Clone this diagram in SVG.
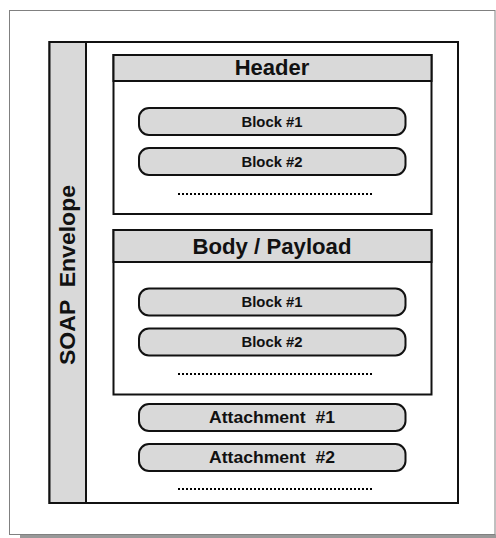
<svg xmlns="http://www.w3.org/2000/svg" width="496" height="538" viewBox="0 0 496 538">
  <style>
    .frame { fill: #ffffff; stroke: #808080; stroke-width: 1; }
    .shadow { fill: #999999; }
    .box { fill: #ffffff; stroke: #111111; stroke-width: 2; }
    .bar { fill: #d9d9d9; stroke: #111111; stroke-width: 2; }
    .pill { fill: #d9d9d9; stroke: #111111; stroke-width: 2; }
    .dots { stroke: #000000; stroke-width: 2; stroke-dasharray: 2 2; fill: none; }
    text { font-family: "Liberation Sans", Arial, sans-serif; font-weight: bold; fill: #111111; text-anchor: middle; }
    .title { font-size: 22px; }
    .block { font-size: 15px; }
    .attach { font-size: 17px; }
  </style>

  <!-- page frame with drop shadow -->
  <rect class="shadow" x="20" y="534.5" width="476" height="4"/>
  <rect class="frame" x="9.5" y="10.5" width="485.5" height="524"/>

  <!-- envelope with vertical side bar -->
  <g id="envelope">
    <rect class="box" x="49.5" y="42" width="408.5" height="461"/>
    <rect class="bar" x="49.5" y="42" width="36.5" height="461"/>
    <text class="title" transform="translate(75,275) rotate(-90)" textLength="180" lengthAdjust="spacingAndGlyphs" xml:space="preserve">SOAP  Envelope</text>
  </g>

  <!-- header section -->
  <g id="header">
    <rect class="box" x="113.5" y="55" width="318" height="159"/>
    <rect class="bar" x="113.5" y="55" width="318" height="26"/>
    <text class="title" x="272" y="75">Header</text>
  </g>
  <g id="header-block-1">
    <rect class="pill" x="139" y="108" width="266.5" height="27" rx="10" ry="10"/>
    <text class="block" x="272" y="126.5" textLength="61" lengthAdjust="spacingAndGlyphs">Block #1</text>
  </g>
  <g id="header-block-2">
    <rect class="pill" x="139" y="148" width="266.5" height="27" rx="10" ry="10"/>
    <text class="block" x="272" y="166.5" textLength="61" lengthAdjust="spacingAndGlyphs">Block #2</text>
  </g>

  <!-- body section -->
  <g id="body">
    <rect class="box" x="113.5" y="230" width="318" height="164.5"/>
    <rect class="bar" x="113.5" y="230" width="318" height="32"/>
    <text class="title" x="272" y="254" textLength="159" lengthAdjust="spacingAndGlyphs">Body / Payload</text>
  </g>
  <g id="body-block-1">
    <rect class="pill" x="139" y="288.5" width="266.5" height="27" rx="10" ry="10"/>
    <text class="block" x="272" y="307.2" textLength="61" lengthAdjust="spacingAndGlyphs">Block #1</text>
  </g>
  <g id="body-block-2">
    <rect class="pill" x="139" y="328.5" width="266.5" height="27" rx="10" ry="10"/>
    <text class="block" x="272" y="347" textLength="61" lengthAdjust="spacingAndGlyphs">Block #2</text>
  </g>

  <!-- attachments -->
  <g id="attachment-1">
    <rect class="pill" x="139" y="404" width="266.5" height="27" rx="10" ry="10"/>
    <text class="attach" x="272" y="422.5" textLength="126" lengthAdjust="spacingAndGlyphs" xml:space="preserve">Attachment  #1</text>
  </g>
  <g id="attachment-2">
    <rect class="pill" x="139" y="444" width="266.5" height="27" rx="10" ry="10"/>
    <text class="attach" x="272" y="462.5" textLength="126" lengthAdjust="spacingAndGlyphs" xml:space="preserve">Attachment  #2</text>
  </g>

  <!-- continuation markers -->
  <g id="connectors">
    <line class="dots" x1="178" y1="194" x2="374" y2="194"/>
    <line class="dots" x1="178" y1="374" x2="374" y2="374"/>
    <line class="dots" x1="178" y1="489" x2="374" y2="489"/>
  </g>
</svg>
